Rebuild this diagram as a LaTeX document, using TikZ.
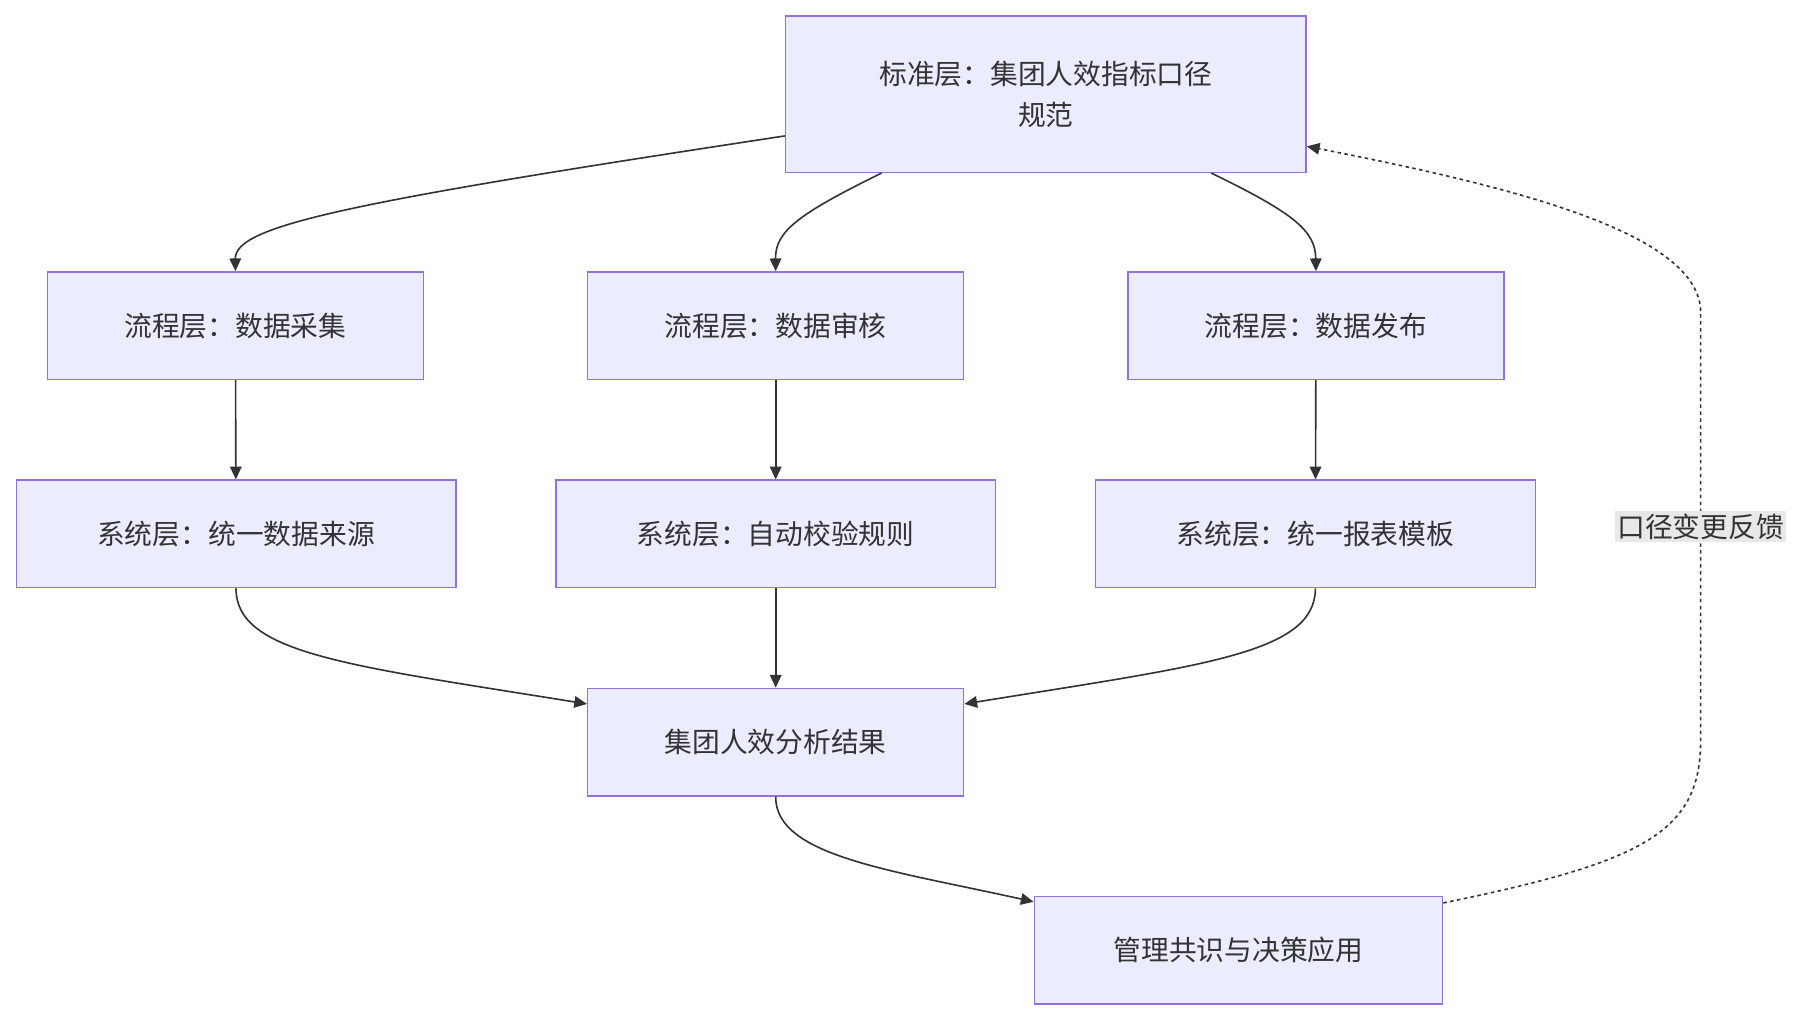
\documentclass[tikz,border=0pt]{standalone}
\usepackage{fontspec}
\setmainfont{Noto Sans CJK SC}
\usetikzlibrary{arrows.meta}
\definecolor{nfill}{HTML}{ECECFF}
\definecolor{nline}{HTML}{9370DB}
\definecolor{ecol}{HTML}{333333}
\begin{document}
\begin{tikzpicture}[x=1pt,y=-1pt,
  box/.style={draw=nline,fill=nfill,line width=1.2pt,align=center,font=\fontsize{24}{36}\selectfont,text=ecol,inner sep=0pt},
  e/.style={draw=ecol,line width=1.4pt,-{Triangle[length=11pt,width=10pt]}},
  fb/.style={draw=ecol,line width=1.4pt,dash pattern=on 3pt off 3pt,-{Triangle[length=11pt,width=10pt]}}]
\useasboundingbox (0,0) rectangle (1568,882);
\node[box,minimum width=450pt,minimum height=135pt] (top) at (904,81.5) {标准层：集团人效指标口径\\规范};
\node[box,minimum width=325pt,minimum height=93pt] (l1) at (203.5,281.5) {流程层：数据采集};
\node[box,minimum width=325pt,minimum height=93pt] (m1) at (670.5,281.5) {流程层：数据审核};
\node[box,minimum width=325pt,minimum height=93pt] (r1) at (1137.5,281.5) {流程层：数据发布};
\node[box,minimum width=380pt,minimum height=93pt] (l2) at (204,461.5) {系统层：统一数据来源};
\node[box,minimum width=380pt,minimum height=93pt] (m2) at (670.5,461.5) {系统层：自动校验规则};
\node[box,minimum width=380pt,minimum height=93pt] (r2) at (1137,461.5) {系统层：统一报表模板};
\node[box,minimum width=325pt,minimum height=93pt] (res) at (670.5,641.5) {集团人效分析结果};
\node[box,minimum width=353pt,minimum height=93pt] (mg) at (1070.5,821.5) {管理共识与决策应用};
\draw[e] ([yshift=-36pt]top.west) .. controls (300,175) and (203,195) .. (l1.north);
\draw[e] ([xshift=-142pt]top.south) .. controls (690,185) and (670,200) .. (m1.north);
\draw[e] ([xshift=143pt]top.south) .. controls (1120,185) and (1137,200) .. (r1.north);
\draw[e] (l1) -- (l2);
\draw[e] (m1) -- (m2);
\draw[e] (r1) -- (r2);
\draw[e] (m2) -- (res);
\draw[e] (l2.south) .. controls (204,565) and (300,575) .. ([yshift=33pt]res.west);
\draw[e] (r2.south) .. controls (1137,565) and (1040,575) .. ([yshift=33pt]res.east);
\draw[e] (res.south) .. controls (670,740) and (770,752) .. ([yshift=42pt]mg.west);
\draw[fb] ([yshift=41pt]mg.east) .. controls (1420,745) and (1470,720) .. (1470,640)
  -- node[fill=black!9,text=ecol,font=\fontsize{24}{30}\selectfont,inner sep=2pt] (lb) {口径变更反馈} (1470,270)
  .. controls (1470,200) and (1300,160) .. ([yshift=-45pt]top.east);
\end{tikzpicture}
\end{document}
